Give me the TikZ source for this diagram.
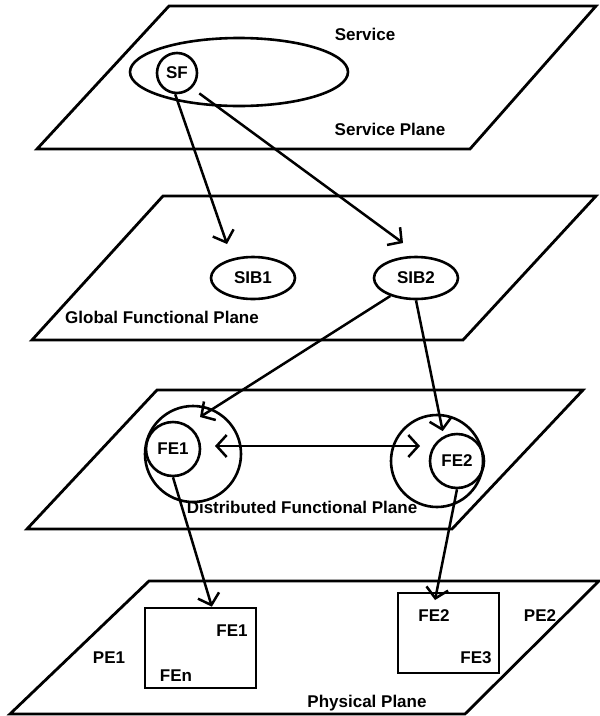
\documentclass[tikz,border=0pt]{standalone}
\usepackage{fontspec}
\setmainfont{Liberation Sans}
\usetikzlibrary{positioning, shapes.geometric, arrows.meta, calc}

\begin{document}
\begin{tikzpicture}[x=1pt, y=-1pt]
		% Styles
		\tikzset{
			plane/.style={line width=2.8pt, line join=miter},
			lbl/.style={font=\fontsize{17}{20}\selectfont\bfseries, inner sep=0pt},
			blob/.style={draw, ellipse, line width=2.6pt, inner sep=0pt, font=\fontsize{17}{20}\selectfont\bfseries},
			ring/.style={draw, circle, line width=2.6pt, inner sep=0pt, font=\fontsize{17}{20}\selectfont\bfseries},
			pebox/.style={draw, rectangle, line width=2.6pt, inner sep=0pt},
			arrow/.style={-{Straight Barb[length=10pt, width=22pt]}, line width=2.5pt},
			link/.style={{Straight Barb[length=10pt, width=22pt]}-{Straight Barb[length=10pt, width=22pt]}, line width=2.5pt}
		}
		\useasboundingbox (0,0) rectangle (600,716);
		
		% Service plane
		\draw[plane] (169,6) -- (596,6) -- (470,149) -- (37,149) -- cycle;
		\node[lbl] (ServiceLabel) at (365,34) {Service};
		\node[lbl] (ServicePlaneLabel) at (390,129) {Service Plane};
		\node[blob, minimum width=218pt, minimum height=68pt] (ServiceArea) at (239,72) {};
		\node[ring, minimum size=40pt] (SF) at (177,73) {SF};
		
		% Global functional plane
		\draw[plane] (163,196) -- (596,196) -- (463,340) -- (32,340) -- cycle;
		\node[lbl] (GlobalLabel) at (162,317) {Global Functional Plane};
		\node[blob, minimum width=84pt, minimum height=42pt] (SIB1) at (253,278) {SIB1};
		\node[blob, minimum width=84pt, minimum height=42pt] (SIB2) at (416,278) {SIB2};
		
		% Distributed functional plane
		\draw[plane] (157,390) -- (583,390) -- (452,529) -- (27,529) -- cycle;
		\node[lbl] (DistLabel) at (302,507) {Distributed Functional Plane};
		\node[ring, minimum size=96pt] (FE1outer) at (193,454) {};
		\node[ring, minimum size=54pt] (FE1) at (173,449) {FE1};
		\node[ring, minimum size=92pt] (FE2outer) at (437,461) {};
		\node[ring, minimum size=54pt] (FE2) at (457,461) {FE2};
		
		% Physical plane
		\draw[plane] (149,581) -- (599,581) -- (465,714) -- (10,714) -- cycle;
		\node[lbl] (PhysLabel) at (367,703) {Physical Plane};
		\node[pebox, minimum width=111pt, minimum height=80pt] (PE1box) at (200.5,648) {};
		\node[pebox, minimum width=101pt, minimum height=80pt] (PE2box) at (448.5,633) {};
		\node[lbl] (PE1label) at (109,658) {PE1};
		\node[lbl] (PE2label) at (540,616) {PE2};
		\node[lbl] (PE1fe1) at (232,631) {FE1};
		\node[lbl] (PE1fen) at (176,676) {FEn};
		\node[lbl] (PE2fe2) at (434,616) {FE2};
		\node[lbl] (PE2fe3) at (476,658) {FE3};
		
		% Free ends of the connectors
		\coordinate (SIB1tip) at (227,244);
		\coordinate (SIB2tip) at (403,243);
		\coordinate (FE1tip) at (200,417);
		\coordinate (LinkL) at (215,446);
		\coordinate (LinkR) at (420,446);
		\coordinate (PE2tip) at (435,600);
		
		% SF -> SIBs
		\draw[arrow] (SF.265) -- (SIB1tip);
		\draw[arrow, shorten <=9pt] (SF.south east) -- (SIB2tip);
		
		% SIB2 -> FEs
		\draw[arrow] (SIB2.215) -- (FE1tip);
		\draw[arrow, shorten >=5pt] (SIB2.south) -- (FE2.118);
		
		% FE1 <-> FE2
		\draw[link] (LinkL) -- (LinkR);
		
		% FEs -> physical entities
		\draw[arrow] (FE1.south) -- ($(PE1box.north west)!0.6!(PE1box.north east)$);
		\draw[arrow] (FE2.south) -- (PE2tip);
		
	\end{tikzpicture}
\end{document}
